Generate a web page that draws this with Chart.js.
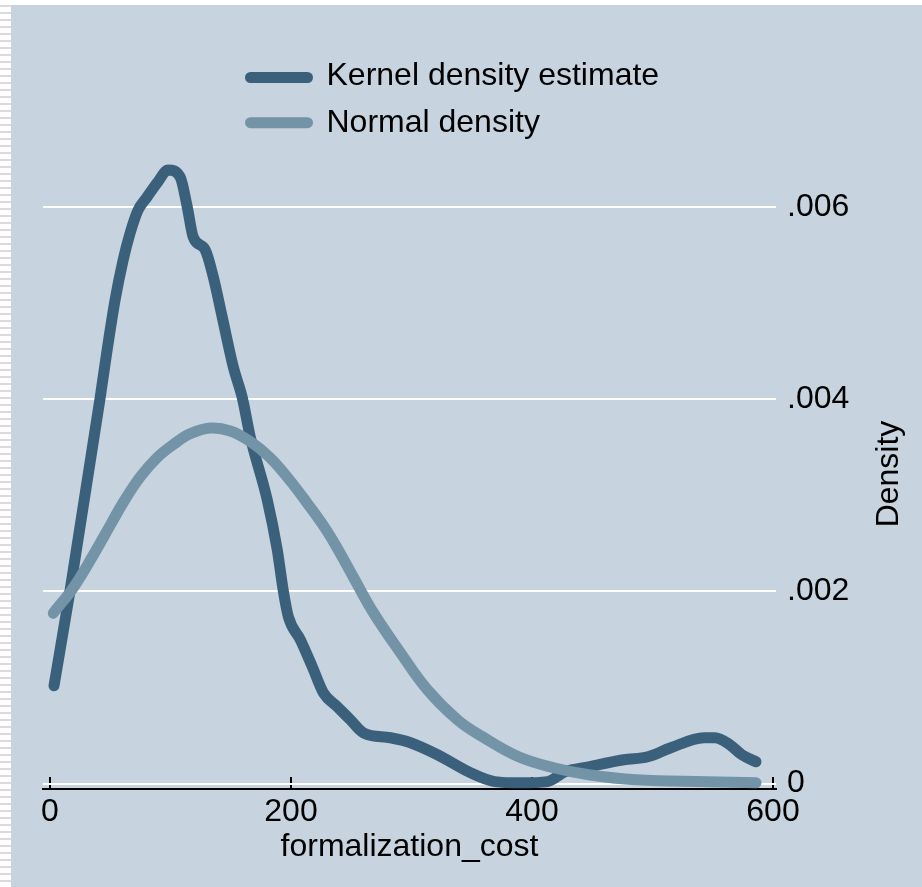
<!DOCTYPE html>
<html><head><meta charset="utf-8">
<script src="https://cdn.jsdelivr.net/npm/chart.js@4.4.1/dist/chart.umd.min.js"></script>
<style>
html,body{margin:0;padding:0;background:#ffffff;overflow:hidden;}
#wrap{position:relative;width:922px;height:887px;}
#stripes{position:absolute;left:0;top:0;width:11px;height:887px;background:repeating-linear-gradient(to bottom,#ffffff 0px,#ffffff 5px,#dadada 5px,#dadada 7px);}
#panel{position:absolute;left:11px;top:5px;right:0;bottom:0;background:#c7d3de;}
canvas{position:absolute;left:0;top:0;}
</style></head><body>
<div id="wrap"><div id="stripes"></div><div id="panel"></div><canvas id="c" width="922" height="887"></canvas></div>
<script>
// ---- data ----
const seriesNames = ['Kernel density estimate', 'Normal density'];
const xTitle = 'formalization_cost';
const yTitle = 'Density';
const xTicks = [0, 200, 400, 600];
const yTicks = [0, 0.002, 0.004, 0.006];

const kernelX = [3.3, 16.6, 41.6, 47.4, 54.0, 60.7, 66.5, 73.1, 80.6, 88.9, 98.1, 108.0, 113.9, 118.8, 128.8, 135.5, 142.9, 152.1, 159.6, 166.2, 180.3, 188.6, 193.6, 197.8, 207.8, 217.7, 226.9, 238.5, 249.3, 260.1, 282.6, 299.2, 321.6, 349.0, 369.0, 390.6, 413.0, 427.2, 447.1, 476.2, 496.1, 515.2, 542.7, 551.8, 564.3, 574.2, 585.9];
const kernelY = [0.001017, 0.002005, 0.004014, 0.004513, 0.005033, 0.005450, 0.005730, 0.005970, 0.006105, 0.006251, 0.006386, 0.006313, 0.006001, 0.005689, 0.005554, 0.005273, 0.004856, 0.004336, 0.004014, 0.003608, 0.002952, 0.002432, 0.002005, 0.001735, 0.001495, 0.001214, 0.000944, 0.000798, 0.000663, 0.000528, 0.000476, 0.000424, 0.000299, 0.000112, 0.000020, 0.000007, 0.000020, 0.000122, 0.000174, 0.000247, 0.000278, 0.000372, 0.000476, 0.000476, 0.000403, 0.000299, 0.000226];

const normalX = [2.7, 19.4, 36.0, 50.5, 61.0, 74.8, 88.7, 102.5, 116.3, 133.0, 149.6, 166.2, 182.8, 199.4, 213.3, 227.1, 237.0, 251.7, 268.3, 290.9, 313.3, 338.2, 359.0, 388.9, 418.0, 447.1, 486.2, 545.2, 585.9];
const normalY = [0.001773, 0.002040, 0.002380, 0.002700, 0.002930, 0.003190, 0.003390, 0.003530, 0.003640, 0.003700, 0.003670, 0.003560, 0.003390, 0.003150, 0.002920, 0.002680, 0.002480, 0.002150, 0.001780, 0.001360, 0.000975, 0.000663, 0.000486, 0.000278, 0.000164, 0.000091, 0.000039, 0.000018, 0.000007];

const kernelColor = '#3a607b';
const normalColor = '#7393a7';
const FONT = '"Liberation Sans", Arial, Helvetica, sans-serif';

Chart.defaults.font.family = FONT;
Chart.defaults.color = '#000000';

const toPoints = (xs, ys) => xs.map((x, i) => ({x: x, y: ys[i]}));

const overlay = {
  id: 'overlay',
  afterDraw(chart) {
    const ctx = chart.ctx;
    ctx.save();
    // legend
    const rows = [
      {lineY: 77.5, baseY: 85.3, color: kernelColor, text: seriesNames[0]},
      {lineY: 122.7, baseY: 131.5, color: normalColor, text: seriesNames[1]}
    ];
    ctx.font = '32px ' + FONT;
    rows.forEach(r => {
      ctx.strokeStyle = r.color;
      ctx.lineWidth = 11;
      ctx.lineCap = 'round';
      ctx.beginPath();
      ctx.moveTo(250.5, r.lineY);
      ctx.lineTo(307.5, r.lineY);
      ctx.stroke();
      ctx.fillStyle = '#000000';
      ctx.textAlign = 'left';
      ctx.textBaseline = 'alphabetic';
      ctx.fillText(r.text, 326.5, r.baseY);
    });
    // y axis title (reads bottom to top)
    ctx.translate(889, 474);
    ctx.rotate(-Math.PI / 2);
    ctx.textAlign = 'center';
    ctx.textBaseline = 'middle';
    ctx.fillStyle = '#000000';
    ctx.fillText(yTitle, 0, 0);
    ctx.restore();
  }
};

new Chart(document.getElementById('c'), {
  type: 'line',
  data: {
    datasets: [
      {
        label: seriesNames[1],
        data: toPoints(normalX, normalY),
        borderColor: normalColor,
        backgroundColor: normalColor,
        borderWidth: 11,
        borderCapStyle: 'round',
        borderJoinStyle: 'round',
        pointRadius: 0,
        tension: 0.4,
        fill: false,
        order: 0
      },
      {
        label: seriesNames[0],
        data: toPoints(kernelX, kernelY),
        borderColor: kernelColor,
        backgroundColor: kernelColor,
        borderWidth: 11,
        borderCapStyle: 'round',
        borderJoinStyle: 'round',
        pointRadius: 0,
        cubicInterpolationMode: 'monotone',
        fill: false,
        order: 1
      }
    ]
  },
  options: {
    responsive: false,
    animation: false,
    devicePixelRatio: 1,
    clip: false,
    layout: {padding: {left: 43, top: 140, right: 0, bottom: 0}},
    plugins: {legend: {display: false}, tooltip: {enabled: false}, title: {display: false}},
    scales: {
      x: {
        type: 'linear',
        position: 'bottom',
        min: -5.82,
        max: 602.5,
        afterBuildTicks: s => { s.ticks = xTicks.map(v => ({value: v})); },
        afterFit: s => { s.height = 98; },
        ticks: {
          autoSkip: false, maxRotation: 0, minRotation: 0,
          padding: 16,
          font: {size: 32},
          color: '#000000',
          callback: v => String(v)
        },
        grid: {display: true, drawOnChartArea: false, drawTicks: true, tickLength: -12, color: '#000000', lineWidth: 2},
        border: {display: true, color: '#000000', width: 2},
        title: {display: true, text: xTitle, font: {size: 32}, color: '#000000', padding: {top: 0, bottom: 21}}
      },
      y: {
        type: 'linear',
        position: 'right',
        min: -0.0000572,
        max: 0.0066982,
        afterBuildTicks: s => { s.ticks = yTicks.map(v => ({value: v})); },
        afterFit: s => { s.width = 146; },
        ticks: {
          padding: 11,
          font: {size: 32},
          color: '#000000',
          callback: v => v === 0 ? '0' : v.toFixed(3).replace(/^0/, '')
        },
        grid: {display: true, drawOnChartArea: true, drawTicks: false, color: '#ffffff', lineWidth: 2},
        border: {display: false}
      }
    }
  },
  plugins: [overlay]
});
</script>
</body></html>
